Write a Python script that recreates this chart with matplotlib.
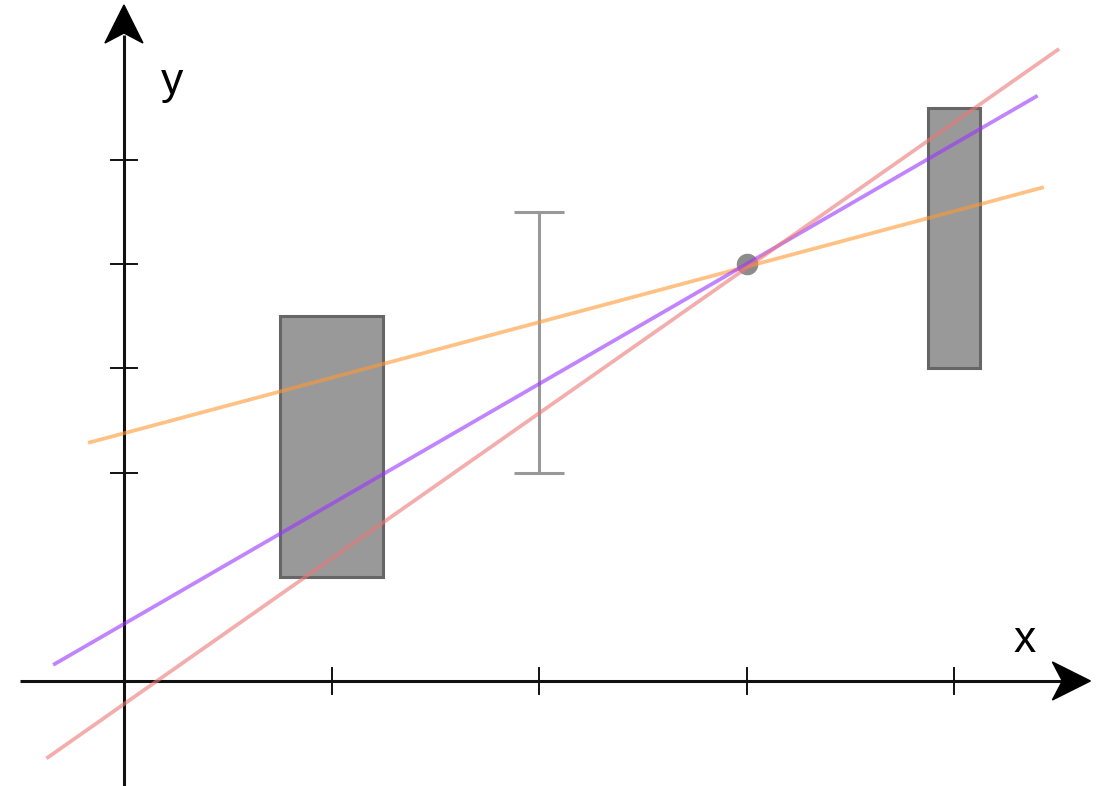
import matplotlib.pyplot as plt
import numpy as np
from matplotlib.patches import Rectangle, Polygon
from matplotlib.transforms import Affine2D

# boxes: (x_left, x_right, y_low, y_high)
boxes = [(0.75, 1.25, 1.0, 3.5),
         (3.875, 4.125, 3.0, 5.5)]
# error bar at x with its low/high
err_x = 2.0
err_low = 2.0
err_high = 4.5
# single measured point
point_x = 3.0
point_y = 4.0

# fitted lines: intercept, slope, x range
line_intercepts = [2.377, 0.547, -0.222]
line_slopes = [0.533, 1.152, 1.396]
line_x_start = [-0.164, -0.333, -0.366]
line_x_end = [4.422, 4.393, 4.497]
line_colors = ['#ff9933', '#9933ff', '#ee7777']

x_ticks = [1, 2, 3, 4]
y_ticks = [2, 3, 4, 5]


def main():
    fig = plt.figure(figsize=(11.07, 7.86), dpi=100)
    ax = fig.add_axes([0, 0, 1, 1])
    ax.set_xlim(-0.597, 4.735)
    ax.set_ylim(-1.008, 6.535)
    ax.axis('off')

    axis_color = '#111111'
    # axes lines
    ax.plot([-0.5, 4.53], [0, 0], color=axis_color, lw=2.2, zorder=1, solid_capstyle='butt')
    ax.plot([0, 0], [-1.01, 6.2], color=axis_color, lw=2.2, zorder=1, solid_capstyle='butt')

    # ticks (13 px each side)
    tx = 13 / 207.75
    ty = 13 / 104.2
    for t in x_ticks:
        ax.plot([t, t], [-ty, ty], color=axis_color, lw=1.4, zorder=1)
    for t in y_ticks:
        ax.plot([-tx, tx], [t, t], color=axis_color, lw=1.4, zorder=1)

    # notched arrow heads, shape in pixels around the tip
    head = np.array([[0, 0], [-38, 19], [-28, 0], [-38, -19]])
    x_tip = ax.transData.transform((4.655, 0))
    y_tip = ax.transData.transform((0, 6.487))
    x_head = Polygon(head, closed=True, color='black',
                     transform=Affine2D().translate(*x_tip), zorder=2)
    y_head = Polygon(head, closed=True, color='black',
                     transform=Affine2D().rotate_deg(90).translate(*y_tip), zorder=2)
    ax.add_patch(x_head)
    ax.add_patch(y_head)

    ax.text(4.337, 0.19, 'x', fontsize=32, family='Liberation Sans', ha='center', va='bottom')
    ax.text(0.23, 5.55, 'y', fontsize=32, family='Liberation Sans', ha='center', va='bottom')

    # boxes
    for x0, x1, y0, y1 in boxes:
        ax.add_patch(Rectangle((x0, y0), x1 - x0, y1 - y0, facecolor='#999999',
                               edgecolor='#666666', lw=2.2, zorder=3))

    # error bar
    ax.errorbar([err_x], [(err_low + err_high) / 2], yerr=[(err_high - err_low) / 2],
                fmt='none', ecolor='#999999', elinewidth=2.2, capsize=18, capthick=2.2, zorder=3)

    # point
    ax.plot([point_x], [point_y], 'o', color='#8c8c8c', markersize=14.5, zorder=3)

    # lines
    for b, m, xs, xe, c in zip(line_intercepts, line_slopes, line_x_start, line_x_end, line_colors):
        xx = np.array([xs, xe])
        ax.plot(xx, b + m * xx, color=c, lw=2.7, alpha=0.6, zorder=4)

    fig.savefig('out.png', dpi=100)


if __name__ == "__main__":
    main()
